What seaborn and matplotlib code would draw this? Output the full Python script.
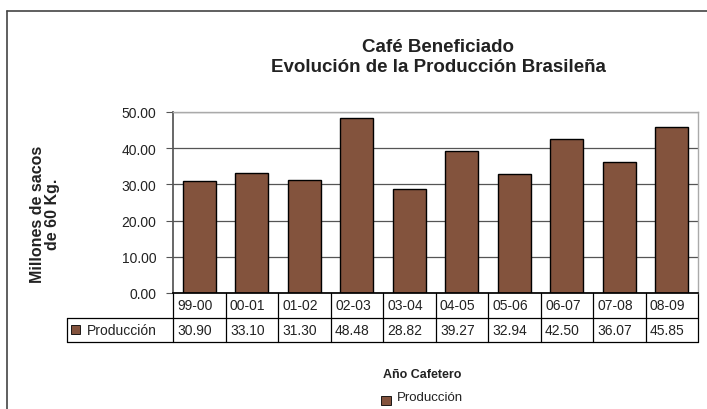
import matplotlib
matplotlib.use("Agg")
import matplotlib.pyplot as plt
import matplotlib.transforms as mtransforms
from matplotlib.lines import Line2D
from matplotlib.patches import Rectangle
import seaborn as sns
import pandas as pd

# Data
years = ["99-00", "00-01", "01-02", "02-03", "03-04", "04-05", "05-06", "06-07", "07-08", "08-09"]
produccion = [30.90, 33.10, 31.30, 48.48, 28.82, 39.27, 32.94, 42.50, 36.07, 45.85]
yticks = [0, 10, 20, 30, 40, 50]

df = pd.DataFrame({"year": years, "prod": produccion})

sns.set_theme(style="white")
plt.rcParams["font.family"] = ["Liberation Sans", "DejaVu Sans"]

brown = "#83533D"
txt = "#222222"

fig = plt.figure(figsize=(7.07, 4.10), dpi=100)
ax = fig.add_axes([173 / 707, 1 - 294 / 410, 525 / 707, 181 / 410])

sns.barplot(data=df, x="year", y="prod", color=brown, width=0.63,
            edgecolor="black", linewidth=1.0, saturation=1, ax=ax, zorder=3)

ax.set_ylim(0, 50)
ax.set_xlim(-0.5, len(years) - 0.5)
ax.set_yticks(yticks)
ax.set_yticklabels([f"{v:.2f}" for v in yticks], fontsize=10, color=txt)
ax.tick_params(axis="y", length=5, width=0.8, color="#555555", direction="out", pad=7, left=True)
ax.set_xticks([])
ax.set_xlabel("")
ax.set_ylabel("")
ax.yaxis.grid(True, color="#555555", linewidth=0.9, zorder=0)
ax.set_axisbelow(True)
for s in ["top", "right"]:
    ax.spines[s].set_color("#aaaaaa")
    ax.spines[s].set_linewidth(1.0)
ax.spines["left"].set_color("#555555")
ax.spines["bottom"].set_color("black")
for s in ax.spines.values():
    s.set_zorder(4)

# data table under the plot
trans = mtransforms.blended_transform_factory(ax.transData, ax.transAxes)
px = len(years) / 525.0          # data units per pixel along x
row_h = 24.5 / 181
label_left = (67 - 173) * px - 0.5
lw = 0.9
for i in range(len(years) + 1):
    xb = i - 0.5
    ax.add_line(Line2D([xb, xb], [0, -2 * row_h], transform=trans, color="black",
                       linewidth=lw, clip_on=False))
ax.add_line(Line2D([label_left, 9.5], [-row_h, -row_h], transform=trans, color="black",
                   linewidth=lw, clip_on=False))
ax.add_line(Line2D([label_left, 9.5], [-2 * row_h, -2 * row_h], transform=trans,
                   color="black", linewidth=lw, clip_on=False))
ax.add_line(Line2D([label_left, label_left], [-row_h, -2 * row_h], transform=trans,
                   color="black", linewidth=lw, clip_on=False))
for i, (y, v) in enumerate(zip(years, produccion)):
    ax.text(i - 0.5 + 4.5 * px, -row_h / 2, y, transform=trans, ha="left", va="center",
            fontsize=10, color=txt)
    ax.text(i - 0.5 + 4.5 * px, -1.5 * row_h, f"{v:.2f}", transform=trans, ha="left",
            va="center", fontsize=10, color=txt)
ax.add_patch(Rectangle((label_left + 4 * px, -1.5 * row_h - 4 / 181), 9 * px, 8.5 / 181,
                       transform=trans, facecolor=brown, edgecolor="black",
                       linewidth=0.6, clip_on=False))
ax.text(label_left + 20 * px, -1.5 * row_h, "Producción", transform=trans, ha="left",
        va="center", fontsize=10, color=txt)

# titles
fig.text(438 / 707, 1 - 47 / 410, "Café Beneficiado", ha="center", va="center",
         fontsize=13.5, fontweight="bold", color=txt)
fig.text(438 / 707, 1 - 67 / 410, "Evolución de la Producción Brasileña", ha="center",
         va="center", fontsize=13.5, fontweight="bold", color=txt)
fig.text(45 / 707, 1 - 214 / 410, "Millones de sacos\nde 60 Kg.", rotation=90,
         ha="center", va="center", fontsize=11.5, fontweight="bold", color=txt,
         linespacing=0.95)
fig.text(422 / 707, 1 - 375 / 410, "Año Cafetero", ha="center", va="center",
         fontsize=9, fontweight="bold", color=txt)
fig.patches.append(Rectangle((381 / 707, 1 - 406 / 410), 10 / 707, 9 / 410,
                             transform=fig.transFigure, facecolor=brown,
                             edgecolor="black", linewidth=0.6))
fig.text(397 / 707, 1 - 398 / 410, "Producción", ha="left", va="center",
         fontsize=9.5, color=txt)

# outer chart frame
fig.add_artist(Line2D([7 / 707, 7 / 707], [0, 1 - 12 / 410], transform=fig.transFigure,
                      color="#444444", linewidth=1.2))
fig.add_artist(Line2D([7 / 707, 1], [1 - 12 / 410, 1 - 12 / 410], transform=fig.transFigure,
                      color="#444444", linewidth=1.2))

fig.savefig("out.png", dpi=100)
